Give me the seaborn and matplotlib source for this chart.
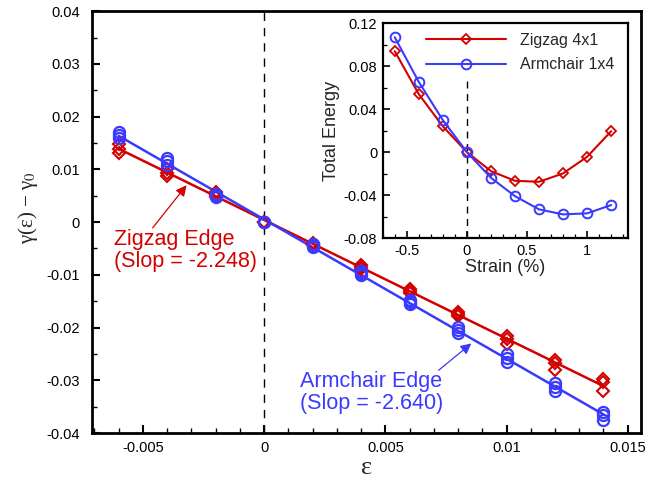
import numpy as np
import pandas as pd
import matplotlib
matplotlib.use("Agg")
import matplotlib.pyplot as plt
from matplotlib.ticker import MultipleLocator, FuncFormatter
import seaborn as sns

# ---------------- data ----------------
strain_main = [-0.006, -0.004, -0.002, 0.0, 0.002, 0.004, 0.006, 0.008, 0.010, 0.012, 0.014]
zigzag_a = [0.0148, 0.0101, 0.0057, 0.0, -0.0040, -0.0082, -0.0126, -0.0170, -0.0216, -0.0262, -0.0297]
zigzag_b = [0.0139, 0.0093, 0.0052, 0.0, -0.0042, -0.0085, -0.0130, -0.0174, -0.0222, -0.0268, -0.0303]
zigzag_c = [0.0132, 0.0087, 0.0048, 0.0, -0.0044, -0.0088, -0.0134, -0.0179, -0.0231, -0.0280, -0.0321]
armchair_a = [0.0170, 0.0121, 0.0053, 0.0, -0.0042, -0.0093, -0.0148, -0.0199, -0.0251, -0.0305, -0.0360]
armchair_b = [0.0165, 0.0115, 0.0050, 0.0, -0.0045, -0.0097, -0.0152, -0.0205, -0.0257, -0.0313, -0.0366]
armchair_c = [0.0160, 0.0109, 0.0048, 0.0, -0.0048, -0.0101, -0.0156, -0.0211, -0.0265, -0.0320, -0.0375]

strain_inset = [-0.6, -0.4, -0.2, 0.0, 0.2, 0.4, 0.6, 0.8, 1.0, 1.2]
energy_zigzag = [0.094, 0.054, 0.024, 0.0, -0.0177, -0.0267, -0.0276, -0.0198, -0.0043, 0.0195]
energy_armchair = [0.107, 0.0654, 0.0298, 0.0, -0.0239, -0.041, -0.0533, -0.058, -0.057, -0.0493]

zig_label = "Zigzag Edge\n(Slop = -2.248)"
arm_label = "Armchair Edge\n(Slop = -2.640)"
legend_labels = ["Zigzag 4x1", "Armchair 1x4"]

RED = "#D40000"
BLUE = "#3A3AFF"

# ---------------- style ----------------
sns.set_theme(style="ticks")
plt.rcParams["font.family"] = ["Liberation Sans", "DejaVu Sans"]
plt.rcParams["mathtext.fontset"] = "stix"
plt.rcParams["axes.unicode_minus"] = False

fig = plt.figure(figsize=(6.64, 4.83), dpi=100)
ax = fig.add_axes([0.1386, 0.1035, 0.8268, 0.8733])

zig_df = pd.DataFrame({
    "strain": strain_main * 3,
    "gamma": zigzag_a + zigzag_b + zigzag_c,
})
arm_df = pd.DataFrame({
    "strain": strain_main * 3,
    "gamma": armchair_a + armchair_b + armchair_c,
})

ax.axvline(0, color="black", lw=1.0, ls=(0, (6, 5)), zorder=1)

for df, col in [(zig_df, RED), (arm_df, BLUE)]:
    sns.regplot(data=df, x="strain", y="gamma", scatter=False, ci=None,
                color=col, line_kws=dict(lw=1.8), ax=ax)

sns.lineplot(data=zig_df, x="strain", y="gamma", estimator=None, sort=False,
             linestyle="", marker="D", ms=6, mfc="none", mec=RED, mew=1.5,
             color=RED, ax=ax)
sns.lineplot(data=arm_df, x="strain", y="gamma", estimator=None, sort=False,
             linestyle="", marker="o", ms=8, mfc="none", mec=BLUE, mew=1.6,
             color=BLUE, ax=ax)

ax.set_xlim(-0.0071, 0.01555)
ax.set_ylim(-0.04, 0.04)
ax.xaxis.set_major_locator(MultipleLocator(0.005))
ax.xaxis.set_minor_locator(MultipleLocator(0.001))
ax.yaxis.set_major_locator(MultipleLocator(0.01))
ax.yaxis.set_minor_locator(MultipleLocator(0.005))
fmt = FuncFormatter(lambda v, p: "%g" % round(v, 6))
ax.xaxis.set_major_formatter(fmt)
ax.yaxis.set_major_formatter(fmt)
ax.tick_params(which="both", direction="in", top=False, right=False, colors="black")
ax.tick_params(which="major", length=6, width=1.5, labelsize=10.5)
ax.tick_params(which="minor", length=3.5, width=1.0)
ax.tick_params(axis="y", which="major", pad=9)
ax.tick_params(axis="x", which="major", pad=6)
for s in ax.spines.values():
    s.set_linewidth(2.0)
    s.set_color("black")
ax.set_xlabel("ε", fontsize=19, family=["Liberation Serif", "DejaVu Serif"], labelpad=1)
ax.set_ylabel(r"γ(ε) − γ$_0$", fontsize=15, family=["Liberation Serif", "DejaVu Serif"],
              labelpad=5)
ax.yaxis.set_label_coords(-0.095, 0.535)

ax.text(-0.0062, -0.0014, zig_label, color=RED, fontsize=15.5, ha="left", va="top",
        linespacing=1.02)
ax.annotate("", xy=(-0.0032, 0.0070), xytext=(-0.0046, -0.0011),
            arrowprops=dict(arrowstyle="-|>", color=RED, lw=0.9,
                            mutation_scale=16, shrinkA=0, shrinkB=0))
ax.text(0.00148, -0.0283, arm_label, color=BLUE, fontsize=15.5, ha="left", va="top",
        linespacing=1.02)
ax.annotate("", xy=(0.00855, -0.0230), xytext=(0.0072, -0.0281),
            arrowprops=dict(arrowstyle="-|>", color=BLUE, lw=0.9,
                            mutation_scale=16, shrinkA=0, shrinkB=0))

# ---------------- inset ----------------
ins = fig.add_axes([0.5764, 0.5072, 0.3694, 0.4445])
ins.set_facecolor("white")
ins.axvline(0, ymin=0, ymax=0.743, color="black", lw=1.0, ls=(0, (5, 4)), zorder=1)
sns.lineplot(x=strain_inset, y=energy_zigzag, marker="D", ms=5, mfc="none",
             mec=RED, mew=1.3, color=RED, lw=1.5, label=legend_labels[0], ax=ins)
sns.lineplot(x=strain_inset, y=energy_armchair, marker="o", ms=7, mfc="none",
             mec=BLUE, mew=1.4, color=BLUE, lw=1.5, label=legend_labels[1], ax=ins)
ins.set_xlim(-0.7, 1.34)
ins.set_ylim(-0.08, 0.12)
ins.xaxis.set_major_locator(MultipleLocator(0.5))
ins.xaxis.set_minor_locator(MultipleLocator(0.1))
ins.yaxis.set_major_locator(MultipleLocator(0.04))
ins.yaxis.set_minor_locator(MultipleLocator(0.02))
ins.xaxis.set_major_formatter(fmt)
ins.yaxis.set_major_formatter(fmt)
ins.tick_params(which="both", direction="in", top=False, right=False, colors="black")
ins.tick_params(which="major", length=5, width=1.2, labelsize=10.5, pad=4)
ins.tick_params(which="minor", length=3, width=0.9)
for s in ins.spines.values():
    s.set_linewidth(1.6)
    s.set_color("black")
ins.set_xlabel("Strain (%)", fontsize=13, labelpad=1)
ins.set_ylabel("Total Energy", fontsize=13, labelpad=3)
leg = ins.legend(loc="upper right", frameon=False, fontsize=11.5, handlelength=5.0,
                 handletextpad=0.9, borderaxespad=0.2, labelspacing=0.6,
                 bbox_to_anchor=(0.985, 1.0))

fig.savefig("out.png", dpi=100)
